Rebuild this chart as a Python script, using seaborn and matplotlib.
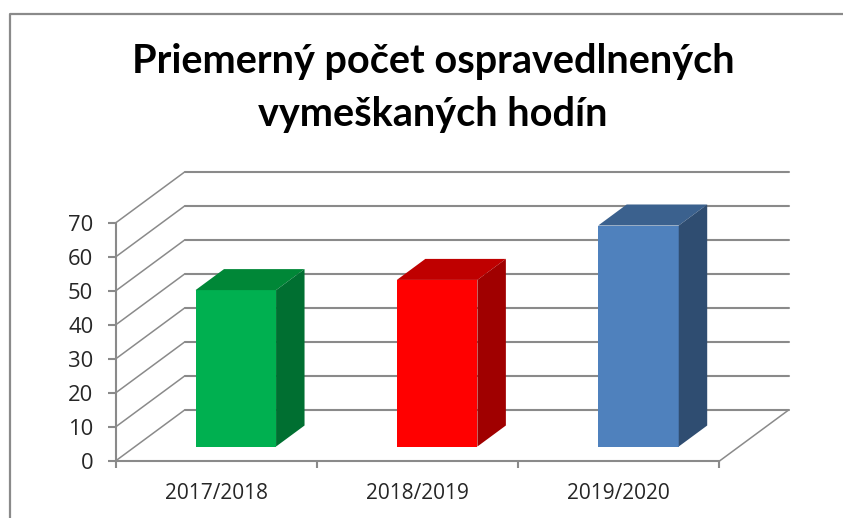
import matplotlib
matplotlib.use("Agg")
import matplotlib.pyplot as plt
from matplotlib.lines import Line2D
from matplotlib.patches import Polygon
import numpy as np
import pandas as pd
import seaborn as sns

categories = ["2017/2018", "2018/2019", "2019/2020"]
values = [46, 49, 65]
front_colors = ["#00B050", "#FF0000", "#4F81BD"]
top_colors = ["#008737", "#BF0000", "#3B618E"]
side_colors = ["#006F31", "#A00000", "#2F4D71"]
y_ticks = [0, 10, 20, 30, 40, 50, 60, 70]
title_text = "Priemerný počet ospravedlnených\nvymeškaných hodín"

W, H = 843, 518
GRAY = "#8A8A8A"
TXT = "#262626"

sns.set_theme(style="white")
plt.rcParams["font.family"] = ["Open Sans", "DejaVu Sans"]

fig = plt.figure(figsize=(W / 100, H / 100), dpi=100, facecolor="white")
ax = fig.add_axes([115.5 / W, 1 - 461 / H, (719.5 - 115.5) / W, (461 - 223) / H])

df = pd.DataFrame({"year": categories, "value": values})
sns.barplot(data=df, x="year", y="value", hue="year", palette=front_colors,
            width=0.4, saturation=1, legend=False, ax=ax, zorder=3)
ax.set_xlim(-0.5, len(categories) - 0.5)
ax.set_ylim(0, max(y_ticks))

# oblique projection of the chart's depth axis, in data units
DX = 69 / 201
DY = 51 / 3.4


def proj(x, v, z):
    return x + DX * z, v + DY * z


# back wall and floor
x0, x1 = ax.get_xlim()
for v in y_ticks:
    diag = [proj(x0, v, 0), proj(x0, v, 1)]
    back = [proj(x0, v, 1), proj(x1, v, 1)]
    ax.plot(*zip(*diag), color=GRAY, lw=1.1, clip_on=False, zorder=1)
    ax.plot(*zip(*back), color=GRAY, lw=1.5, clip_on=False, zorder=1)
pts = [proj(x1, 0, 1), proj(x1, 0, 0)]
ax.plot(*zip(*pts), color=GRAY, lw=1.1, clip_on=False, zorder=1)

# 3D bars: seaborn's bars become the front faces
Z_FRONT, Z_BACK = 0.284, 0.696
for i, bar in enumerate(ax.patches):
    x, w, h = bar.get_x(), bar.get_width(), bar.get_height()
    fx, fy = proj(x, 0, Z_FRONT)
    bar.set_x(fx)
    bar.set_y(fy)
    bar.set_clip_on(False)
    bar.set_linewidth(0)
    top = [proj(x, h, Z_FRONT), proj(x + w, h, Z_FRONT), proj(x + w, h, Z_BACK), proj(x, h, Z_BACK)]
    side = [proj(x + w, 0, Z_FRONT), proj(x + w, h, Z_FRONT), proj(x + w, h, Z_BACK), proj(x + w, 0, Z_BACK)]
    ax.add_patch(Polygon(top, closed=True, fc=top_colors[i], ec="none", clip_on=False, zorder=3))
    ax.add_patch(Polygon(side, closed=True, fc=side_colors[i], ec="none", clip_on=False, zorder=3))

for s in ["top", "right"]:
    ax.spines[s].set_visible(False)
for s in ["left", "bottom"]:
    ax.spines[s].set_color(GRAY)
    ax.spines[s].set_linewidth(1.5)

ax.set_xlabel("")
ax.set_ylabel("")
ax.set_yticks(y_ticks)
ax.set_xticks(range(len(categories)))
ax.set_xticklabels(categories)
ax.set_xticks(np.arange(len(categories) + 1) - 0.5, minor=True)
ax.tick_params(axis="x", which="major", length=0, pad=23.5, labelsize=15, labelcolor=TXT)
ax.tick_params(axis="x", which="minor", length=5, width=1.5, color=GRAY, bottom=True, direction="out")
ax.tick_params(axis="y", which="major", length=6, width=1.5, color=GRAY, left=True, pad=10,
               labelsize=15.8, labelcolor=TXT, direction="out")
for lab in ax.get_xticklabels():
    lab.set_verticalalignment("center")

fig.text(433 / W, 1 - 88 / H, title_text, ha="center", va="center", fontsize=28.5,
         fontweight="bold", family="Lato", color="black", linespacing=1.56)

fig.add_artist(Line2D([10 / W, 10 / W, 1], [0, 1 - 14 / H, 1 - 14 / H], color=GRAY, lw=1.6))

fig.savefig("out.png", dpi=100, facecolor="white")
